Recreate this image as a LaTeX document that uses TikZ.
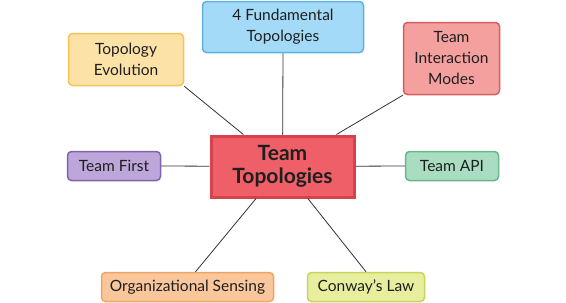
\documentclass[tikz,border=0pt]{standalone}
\usepackage{fontspec}
\setmainfont{Lato}
\usepackage{tikz}
\usepackage{xcolor}
\definecolor{blueF}{HTML}{A3DAF7}  \definecolor{blueD}{HTML}{62B0DF}
\definecolor{sandF}{HTML}{FDE2A8}  \definecolor{sandD}{HTML}{F4C552}
\definecolor{roseF}{HTML}{F4A09E}  \definecolor{roseD}{HTML}{D35F60}
\definecolor{redF}{HTML}{EF5F68}   \definecolor{redD}{HTML}{D6434C}
\definecolor{lilaF}{HTML}{BCA6DA}  \definecolor{lilaD}{HTML}{7F64A9}
\definecolor{mintF}{HTML}{A9DDC2}  \definecolor{mintD}{HTML}{6AB48E}
\definecolor{peachF}{HTML}{FAC69B} \definecolor{peachD}{HTML}{EEA463}
\definecolor{limeF}{HTML}{E7EF9E}  \definecolor{limeD}{HTML}{C6D45C}
\tikzset{
  topic/.style 2 args={draw=#2, fill=#1, line width=1.5pt, rounded corners=4pt,
    align=center, inner sep=0pt, text=black!88, font=\fontsize{15.5}{21}\selectfont},
  link/.style={draw=black!80, line width=0.8pt}
}

\begin{document}
\begin{tikzpicture}[x=1pt, y=-1pt]
      \useasboundingbox (0, 0) rectangle (566, 303);
      % the hub
      \node[draw=redD, fill=redF, line width=3pt, inner sep=0pt, align=center,
        minimum width=143pt, minimum height=61pt, text=black!88,
        font=\fontsize{21}{23}\selectfont\bfseries] (tt) at (282.5, 166.5) {Team\\Topologies};
      % the topics round it
      \node[topic={blueF}{blueD}, minimum width=161pt, minimum height=51pt] (fund) at (283, 27) {4 Fundamental\\Topologies};
      \node[topic={sandF}{sandD}, minimum width=115pt, minimum height=52pt] (evo) at (126, 59.5) {Topology\\Evolution};
      \node[topic={roseF}{roseD}, minimum width=96pt, minimum height=72pt] (modes) at (451.5, 58.5) {Team\\Interaction\\Modes};
      \node[topic={lilaF}{lilaD}, minimum width=93pt, minimum height=29pt] (first) at (114, 166) {Team First};
      \node[topic={mintF}{mintD}, minimum width=93pt, minimum height=29pt] (api) at (452, 166) {Team API};
      \node[topic={peachF}{peachD}, minimum width=172pt, minimum height=29pt] (org) at (187.5, 287) {Organizational Sensing};
      \node[topic={limeF}{limeD}, minimum width=117pt, minimum height=29pt] (conway) at (366, 287) {Conway's Law};
      % spokes
      \draw[link] (fund.south) -- (tt);
      \draw[link] (evo.south east) -- (tt);
      \draw[link] (modes.south west) -- (tt);
      \draw[link] (first.east) -- (tt);
      \draw[link] (api.west) -- (tt);
      \draw[link] ([xshift=8pt]org.north) -- (tt);
      \draw[link] (conway.north) -- (tt);
    \end{tikzpicture}
\end{document}
